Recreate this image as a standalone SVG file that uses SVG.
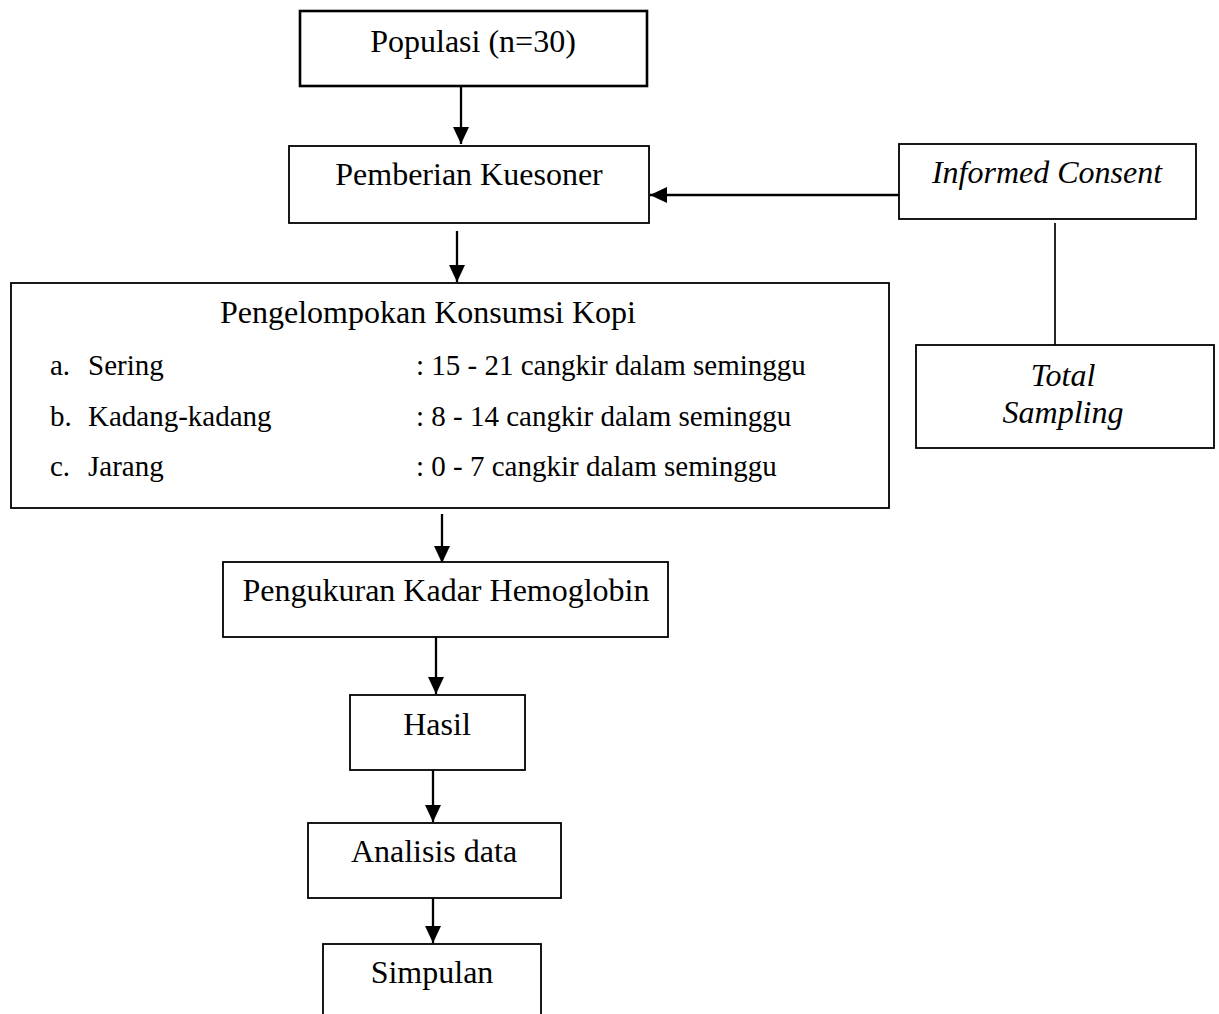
<svg xmlns="http://www.w3.org/2000/svg" width="1219" height="1014" viewBox="0 0 1219 1014">
  <style>
    .box { fill: #ffffff; stroke: #000000; stroke-width: 1.8; }
    .thick { stroke-width: 2.6; }
    .t { font-family: "Liberation Serif", "Times New Roman", serif; font-size: 32px; fill: #000000; }
    .c { text-anchor: middle; }
    .i { font-style: italic; }
    .s { font-size: 29px; }
    .conn { stroke: #000000; stroke-width: 2.3; fill: none; }
  </style>
  <defs>
    <marker id="arrow" viewBox="0 0 17 16" refX="17" refY="8" markerWidth="17" markerHeight="16" markerUnits="userSpaceOnUse" orient="auto">
      <path d="M0,0 L17,8 L0,16 z" fill="#000000"/>
    </marker>
  </defs>
  <rect width="1219" height="1014" fill="#ffffff"/>

  <g id="connectors">
    <line class="conn" x1="461" y1="86" x2="461" y2="144" marker-end="url(#arrow)"/>
    <line class="conn" x1="457" y1="231" x2="457" y2="282" marker-end="url(#arrow)"/>
    <line class="conn" x1="899" y1="195" x2="650" y2="195" marker-end="url(#arrow)"/>
    <line class="conn" x1="1055" y1="223" x2="1055" y2="347" style="stroke-width:1.7"/>
    <line class="conn" x1="442" y1="514" x2="442" y2="563" marker-end="url(#arrow)"/>
    <line class="conn" x1="436" y1="637" x2="436" y2="694" marker-end="url(#arrow)"/>
    <line class="conn" x1="433" y1="770" x2="433" y2="822" marker-end="url(#arrow)"/>
    <line class="conn" x1="433" y1="893" x2="433" y2="943" marker-end="url(#arrow)"/>
  </g>

  <g id="populasi">
    <rect class="box thick" x="300" y="11" width="347" height="75"/>
    <text class="t c" x="473" y="52">Populasi (n=30)</text>
  </g>

  <g id="pemberian-kuesoner">
    <rect class="box" x="289" y="146" width="360" height="77"/>
    <text class="t c" x="469" y="185">Pemberian Kuesoner</text>
  </g>

  <g id="informed-consent">
    <rect class="box" x="899" y="144" width="297" height="75"/>
    <text class="t c i" x="1047" y="183">Informed Consent</text>
  </g>

  <g id="total-sampling">
    <rect class="box" x="916" y="345" width="298" height="103"/>
    <text class="t c i" x="1063" y="386">Total</text>
    <text class="t c i" x="1063" y="423">Sampling</text>
  </g>

  <g id="pengelompokan">
    <rect class="box" x="11" y="283" width="878" height="225"/>
    <text class="t c" x="428" y="323">Pengelompokan Konsumsi Kopi</text>
    <text class="t s" x="50" y="375">a.</text>
    <text class="t s" x="88" y="375">Sering</text>
    <text class="t s" x="416" y="375">: 15 - 21 cangkir dalam seminggu</text>
    <text class="t s" x="50" y="426">b.</text>
    <text class="t s" x="88" y="426">Kadang-kadang</text>
    <text class="t s" x="416" y="426">: 8 - 14 cangkir dalam seminggu</text>
    <text class="t s" x="50" y="476">c.</text>
    <text class="t s" x="88" y="476">Jarang</text>
    <text class="t s" x="416" y="476">: 0 - 7 cangkir dalam seminggu</text>
  </g>

  <g id="pengukuran">
    <rect class="box" x="223" y="562" width="445" height="75"/>
    <text class="t c" x="446" y="601">Pengukuran Kadar Hemoglobin</text>
  </g>

  <g id="hasil">
    <rect class="box" x="350" y="695" width="175" height="75"/>
    <text class="t c" x="437" y="735">Hasil</text>
  </g>

  <g id="analisis">
    <rect class="box" x="308" y="823" width="253" height="75"/>
    <text class="t c" x="434" y="862">Analisis data</text>
  </g>

  <g id="simpulan">
    <rect class="box" x="323" y="944" width="218" height="100"/>
    <text class="t c" x="432" y="983">Simpulan</text>
  </g>
</svg>
